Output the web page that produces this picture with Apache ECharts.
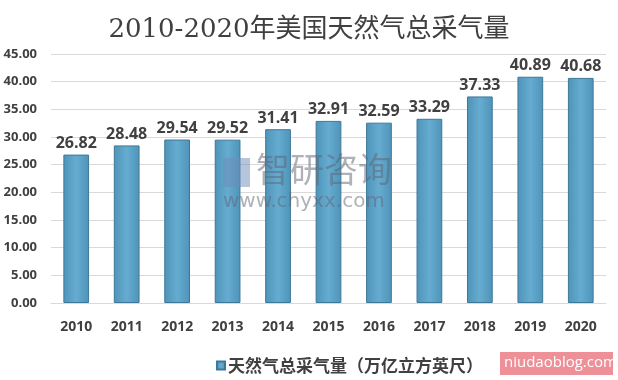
<!DOCTYPE html>
<html><head><meta charset="utf-8">
<script src="https://cdn.jsdelivr.net/npm/echarts@6/dist/echarts.min.js"></script>
<style>html,body{margin:0;padding:0;background:#fff}#c{width:618px;height:380px}</style>
</head><body><div id="c"></div>
<script>
const categories = ['2010','2011','2012','2013','2014','2015','2016','2017','2018','2019','2020'];
const values = [26.82, 28.48, 29.54, 29.52, 31.41, 32.91, 32.59, 33.29, 37.33, 40.89, 40.68];
const seriesName = '天然气总采气量（万亿立方英尺）';
const titleText = '2010-2020年美国天然气总采气量';

const chart = echarts.init(document.getElementById('c'));
chart.setOption({
  animation: false,
  backgroundColor: '#fff',
  title: {
    text: titleText, left: 'center', top: 12,
    textStyle: { fontFamily: '"DejaVu Serif","Noto Sans CJK SC",serif', fontSize: 26, fontWeight: 'normal', color: '#404040' }
  },
  legend: {
    top: 352, left: 211, itemWidth: 8, itemHeight: 8, itemGap: 4, icon: 'rect',
    textStyle: { fontSize: 17, fontWeight: 'bold', color: '#404040', fontFamily: '"Noto Sans CJK SC",sans-serif', padding: [0, 0, 0, -2] }
  },
  grid: { left: 51, right: 12, top: 54, bottom: 77, containLabel: false },
  xAxis: {
    type: 'category', data: categories,
    axisLine: { lineStyle: { color: '#d9d9d9' } },
    axisTick: { show: false },
    axisLabel: { color: '#404040', fontSize: 14, fontWeight: 'bold', margin: 17, fontFamily: '"Open Sans","DejaVu Sans",sans-serif' }
  },
  yAxis: {
    type: 'value', min: 0, max: 45, interval: 5,
    axisLine: { show: false }, axisTick: { show: false },
    splitLine: { lineStyle: { color: '#d9d9d9' } },
    axisLabel: { color: '#404040', fontSize: 13, fontWeight: 'bold', margin: 14, formatter: v => v.toFixed(2), fontFamily: '"Open Sans","DejaVu Sans",sans-serif' }
  },
  series: [{
    name: seriesName, type: 'bar', data: values, barWidth: '51%',
    itemStyle: {
      color: new echarts.graphic.LinearGradient(0, 0, 1, 0, [
        { offset: 0, color: '#4f94b8' }, { offset: 0.5, color: '#65acd0' }, { offset: 1, color: '#4f94b8' }
      ]),
      borderColor: '#3d7898', borderWidth: 1
    },
    label: {
      show: true, position: 'top', distance: 3, color: '#404040', fontSize: 16, fontWeight: 'bold',
      formatter: p => p.value.toFixed(2), fontFamily: '"Open Sans","DejaVu Sans",sans-serif'
    }
  }],
  graphic: [
    { type: 'rect', z: 100, left: 223, top: 158, shape: { width: 27, height: 29 }, style: { fill: 'rgba(110,140,185,0.5)' } },
    { type: 'text', z: 100, left: 256, top: 152, style: { text: '智研咨询', fontSize: 34, fill: 'rgba(95,100,115,0.5)', fontFamily: '"Noto Sans CJK SC",sans-serif' } },
    { type: 'text', z: 100, left: 223, top: 192, style: { text: 'www.chyxx.com', fontSize: 20, fill: 'rgba(95,100,115,0.5)', fontFamily: '"DejaVu Sans",sans-serif', letterSpacing: 1.5 } },
    { type: 'rect', z: 100, left: 500, top: 352, shape: { width: 113, height: 23 }, style: { fill: '#ee9098' } },
    { type: 'text', z: 101, left: 504, top: 355, style: { text: 'niudaoblog.com', fontSize: 15, fill: '#fff', fontFamily: '"Open Sans","DejaVu Sans",sans-serif' } }
  ]
});
</script></body></html>
